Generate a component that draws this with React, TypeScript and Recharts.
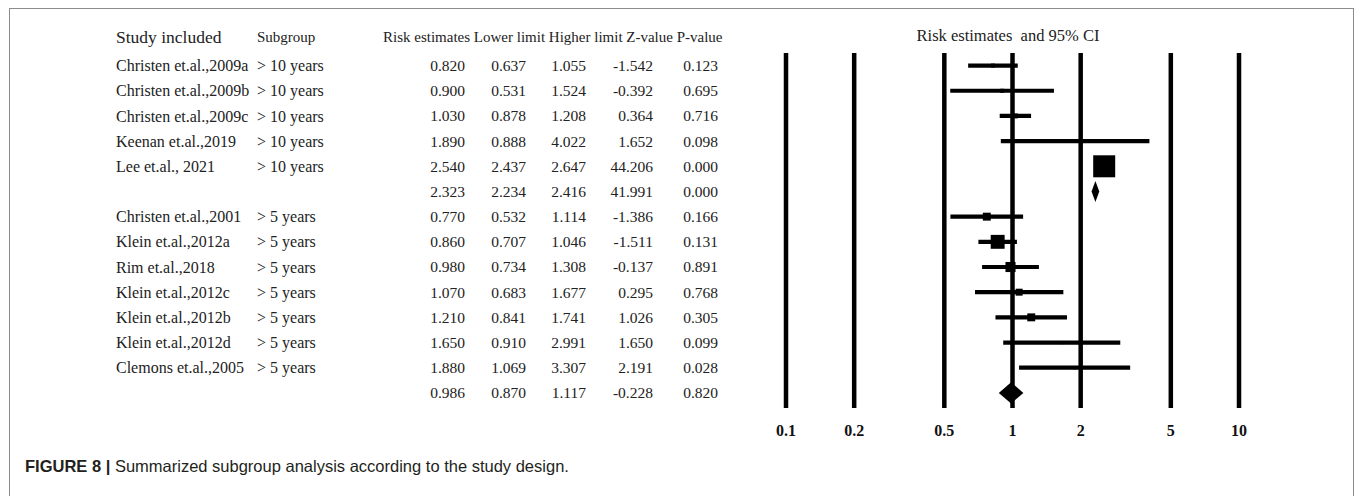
import React from 'react';
import { Area, ComposedChart, ReferenceLine, Scatter, XAxis, YAxis } from 'recharts';

const studies = [
  'Christen et.al.,2009a', 'Christen et.al.,2009b', 'Christen et.al.,2009c',
  'Keenan et.al.,2019', 'Lee et.al., 2021', '',
  'Christen et.al.,2001', 'Klein et.al.,2012a', 'Rim et.al.,2018',
  'Klein et.al.,2012c', 'Klein et.al.,2012b', 'Klein et.al.,2012d',
  'Clemons et.al.,2005', '',
];
const subgroups = [
  '> 10 years', '> 10 years', '> 10 years', '> 10 years', '> 10 years', '',
  '> 5 years', '> 5 years', '> 5 years', '> 5 years', '> 5 years', '> 5 years', '> 5 years', '',
];
const estimates = [0.82, 0.9, 1.03, 1.89, 2.54, 2.323, 0.77, 0.86, 0.98, 1.07, 1.21, 1.65, 1.88, 0.986];
const lowerLimits = [0.637, 0.531, 0.878, 0.888, 2.437, 2.234, 0.532, 0.707, 0.734, 0.683, 0.841, 0.91, 1.069, 0.87];
const higherLimits = [1.055, 1.524, 1.208, 4.022, 2.647, 2.416, 1.114, 1.046, 1.308, 1.677, 1.741, 2.991, 3.307, 1.117];
const zValues = [-1.542, -0.392, 0.364, 1.652, 44.206, 41.991, -1.386, -1.511, -0.137, 0.295, 1.026, 1.65, 2.191, -0.228];
const pValues = [0.123, 0.695, 0.716, 0.098, 0, 0, 0.166, 0.131, 0.891, 0.768, 0.305, 0.099, 0.028, 0.82];
// relative weights
const weights = [3.3, 3.3, 5, 2, 100, 0, 13, 40, 21, 10, 13, 2, 2, 0];
const pooledRows = [5, 13];
const axisTicks = [0.1, 0.2, 0.5, 1, 2, 5, 10];
const columnHeaders = ['Risk estimates', 'Lower limit', 'Higher limit', 'Z-value', 'P-value'];

const W = 1357;
const H = 496;
const SERIF = '"Liberation Serif", "Times New Roman", serif';
const SANS = '"Liberation Sans", Arial, sans-serif';
const INK = '#222';
const STUDY_X = 116;
const SUBGROUP_X = 257;
const NUM_RIGHT = [465, 526, 586, 653, 718];
const DIAMOND_HALF = 0.42;

const rows = studies.map((study, i) => ({
  row: i,
  study,
  subgroup: subgroups[i],
  values: [estimates[i], lowerLimits[i], higherLimits[i], zValues[i], pValues[i]],
}));

const squares = studies
  .map((_, i) => ({ x: estimates[i], y: i, w: weights[i] }))
  .filter((d) => !pooledRows.includes(d.y));

const ciRows = studies.map((_, i) => i).filter((i) => !pooledRows.includes(i));

function diamondData(i: number) {
  return [
    { x: lowerLimits[i], band: [i, i] },
    { x: estimates[i], band: [i - DIAMOND_HALF, i + DIAMOND_HALF] },
    { x: higherLimits[i], band: [i, i] },
  ];
}

function RowTick(props: any) {
  const { y, payload } = props;
  const r = rows[payload.value];
  if (!r) return null;
  const common = { y, dy: '0.35em', fontFamily: SERIF, fill: INK };
  return (
    <g>
      <text x={STUDY_X} fontSize={16} {...common}>{r.study}</text>
      <text x={SUBGROUP_X} fontSize={16} {...common}>{r.subgroup}</text>
      {r.values.map((v, k) => (
        <text key={k} x={NUM_RIGHT[k]} textAnchor="end" fontSize={15.5} {...common}>
          {v.toFixed(3)}
        </text>
      ))}
    </g>
  );
}

function StudySquare(props: any) {
  const { cx, cy, payload } = props;
  const side = 2.2 * Math.sqrt(payload.w);
  return <rect x={cx - side / 2} y={cy - side / 2} width={side} height={side} fill="#000" />;
}

export default function App() {
  return (
    <div style={{ position: 'absolute', left: 0, top: 0, width: W, height: H, background: '#fff', overflow: 'hidden' }}>
      <ComposedChart width={W} height={H} margin={{ top: 53, right: 118, bottom: 58, left: 785 }}>
        <XAxis
          type="number"
          dataKey="x"
          scale="log"
          domain={[0.1, 10]}
          ticks={axisTicks}
          allowDataOverflow
          interval={0}
          axisLine={false}
          tickLine={false}
          height={30}
          tickMargin={11}
          tickFormatter={(v) => String(v)}
          tick={{ fontFamily: SERIF, fontSize: 16, fontWeight: 700, fill: '#111' }}
        />
        <YAxis
          type="number"
          dataKey="y"
          domain={[-0.5, 13.6]}
          reversed
          allowDataOverflow
          ticks={rows.map((r) => r.row)}
          interval={0}
          width={1}
          axisLine={false}
          tickLine={false}
          tick={(p: any) => <RowTick {...p} />}
        />
        {axisTicks.map((t) => (
          <ReferenceLine key={t} x={t} stroke="#000" strokeWidth={4.5} />
        ))}
        {ciRows.map((i) => (
          <ReferenceLine
            key={`ci${i}`}
            segment={[{ x: lowerLimits[i], y: i }, { x: higherLimits[i], y: i }]}
            stroke="#000"
            strokeWidth={4.2}
          />
        ))}
        <Scatter data={squares} shape={<StudySquare />} isAnimationActive={false} />
        {pooledRows.map((i) => (
          <Area
            key={`d${i}`}
            data={diamondData(i)}
            dataKey="band"
            type="linear"
            fill="#000"
            fillOpacity={1}
            stroke="none"
            dot={false}
            activeDot={false}
            isAnimationActive={false}
          />
        ))}
      </ComposedChart>
      <svg width={W} height={H} style={{ position: 'absolute', left: 0, top: 0, pointerEvents: 'none' }}>
        <rect x={9.5} y={8.5} width={1344} height={600} fill="none" stroke="#8c8c8c" strokeWidth={1} />
        <text x={STUDY_X} y={37} dy="0.35em" fontFamily={SERIF} fontSize={17.5} fill={INK}>Study included</text>
        <text x={SUBGROUP_X} y={37} dy="0.35em" fontFamily={SERIF} fontSize={15} fill={INK}>Subgroup</text>
        <text x={383} y={37} dy="0.35em" fontFamily={SERIF} fontSize={15} fill={INK}>{columnHeaders.join(' ')}</text>
        <text x={1008} y={35} dy="0.35em" textAnchor="middle" fontFamily={SERIF} fontSize={16.5} fill={INK} style={{ whiteSpace: 'pre' }}>
          Risk estimates  and 95% CI
        </text>
        <text x={25} y={466} dy="0.35em" fontFamily={SANS} fontSize={16.5} fill="#231f20">
          <tspan fontWeight={700}>FIGURE 8 | </tspan>
          <tspan>Summarized subgroup analysis according to the study design.</tspan>
        </text>
      </svg>
    </div>
  );
}
